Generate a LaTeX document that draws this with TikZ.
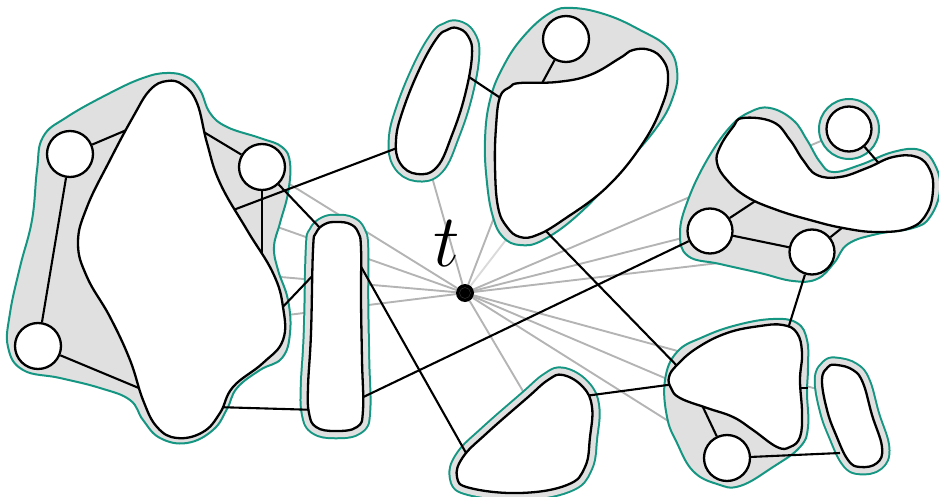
\documentclass[tikz,border=0pt]{standalone}

\definecolor{tealc}{RGB}{20,150,130}
\definecolor{hullgray}{RGB}{224,224,224}
\definecolor{raygray}{RGB}{180,180,180}
\definecolor{raylight}{RGB}{218,218,218}

\pgfdeclarelayer{rays}
\pgfdeclarelayer{hulls}
\pgfdeclarelayer{ties}
\pgfdeclarelayer{blobs}
\pgfsetlayers{rays,hulls,ties,blobs,main}

\tikzset{
  vert/.style={circle, draw, fill=white, line width=2.3pt, minimum size=46pt, inner sep=0pt},
  blob/.style={draw, fill=white, line width=2.3pt},
  hull/.style={draw=tealc, fill=hullgray, line width=2pt},
  band/.style={draw=tealc, line width=16.5pt, line join=round, postaction={draw=hullgray, line width=12.5pt}},
  tie/.style={line width=2.1pt},
  ray/.style={draw=raygray, line width=1.9pt},
}

% Các miền đơn
\newcommand\pillshape{plot[smooth cycle, tension=0.7] coordinates {(337,222) (350,224) (358,232) (361,248) (361,300) (362,360) (363,410) (357,427) (335,431) (316,427) (309,413) (308,387) (311,333) (313,250) (316,233) (325,224)}}
\newcommand\oblongshape{plot[smooth cycle, tension=0.7] coordinates {(457,28) (468,36) (472,55) (465,95) (452,135) (437,167) (417,174) (400,163) (396,140) (403,110) (420,68) (437,38) (447,30)}}
\newcommand\trishape{plot[smooth cycle, tension=0.7] coordinates {(563,375) (583,387) (592,407) (590,437) (585,467) (567,485) (520,493) (470,488) (457,477) (463,457) (487,433) (527,398) (548,380)}}
\newcommand\slimshape{plot[smooth cycle, tension=0.7] coordinates {(837,365) (853,370) (863,383) (872,415) (882,447) (877,463) (860,467) (848,460) (836,435) (827,410) (822,380) (828,367)}}

\begin{document}
\begin{tikzpicture}[x=1pt, y=-1pt]
    \useasboundingbox (0,0) rectangle (939,497);

    % Các đỉnh
    \node[circle, fill=black, minimum size=18pt, inner sep=0pt] (t) at (465,293) {};
    \draw[gray!45!black, line width=0.4pt] (t.center) circle[radius=5.5pt];
    \node[scale=3, font=\Huge] (tlabel) at (447,244) {$t$};

    \node[vert] (cTL) at (70,154) {};
    \node[vert] (cBL) at (38,346) {};
    \node[vert] (cLR) at (262,167) {};
    \node[vert] (cTop) at (566,39) {};
    \node[vert, minimum size=45pt] (cR1) at (710,231) {};
    \node[vert, minimum size=45pt] (cR2) at (812,252) {};
    \node[vert, minimum size=45pt] (cSm) at (849,129) {};
    \node[vert] (cBR) at (727,458) {};

    % Điểm neo trên các miền
    \coordinate (lbA) at (136,126);  \coordinate (lbB) at (146,391);
    \coordinate (lbC) at (202,131);  \coordinate (lbD) at (262,268);
    \coordinate (lbE) at (228,212);  \coordinate (lbF) at (278,312);
    \coordinate (lbG) at (215,407);  \coordinate (lbR) at (200,270);
    \coordinate (pA) at (322,230);   \coordinate (pB) at (318,270);
    \coordinate (pC) at (318,410);   \coordinate (pD) at (355,401);
    \coordinate (pE) at (355,256);
    \coordinate (obA) at (405,145);  \coordinate (obB) at (466,75);
    \coordinate (obR) at (422,142);
    \coordinate (tbA) at (505,101);  \coordinate (tbB) at (540,87);
    \coordinate (tbC) at (540,225);  \coordinate (tbR) at (510,176);
    \coordinate (tbL) at (539,197);
    \coordinate (rbA) at (757,200);  \coordinate (rbB) at (848,223);
    \coordinate (rbC) at (883,168);
    \coordinate (brA) at (683,372);  \coordinate (brB) at (675,384);
    \coordinate (brC) at (787,332);  \coordinate (brD) at (701,403);
    \coordinate (brE) at (795,388);  \coordinate (brX) at (808,388);
    \coordinate (brR) at (740,410);
    \coordinate (trA) at (585,396);  \coordinate (trB) at (470,460);
    \coordinate (trR) at (540,420);
    \coordinate (slA) at (840,453);  \coordinate (slR) at (850,398);

    % Các tia từ t
    \begin{pgfonlayer}{rays}
    \foreach \v in {cLR, cTL, lbR, cBL, obR, tbR, cR1, cR2, cSm, slR, brR, cBR, trR}
        \draw[ray] (t) -- (\v);
    \draw[ray, draw=raylight] (t) -- (tbL);
    \end{pgfonlayer}

    % Các cụm
    \begin{pgfonlayer}{hulls}
    \draw[hull] plot[smooth cycle, tension=0.7] coordinates {(167,73) (187,77) (200,90) (210,113) (227,127) (260,138) (282,147) (290,163) (288,193) (280,223) (274,247) (278,270) (288,300) (290,333) (282,358) (260,370) (237,388) (227,409) (213,430) (187,443) (160,438) (143,420) (130,400) (100,388) (60,378) (23,370) (8,347) (10,313) (20,267) (32,220) (37,170) (43,137) (67,117) (110,93) (143,78)};
    \draw[hull] plot[smooth cycle, tension=0.7] coordinates {(503,67) (523,37) (550,13) (573,8) (607,15) (640,30) (667,47) (677,70) (673,97) (657,127) (623,167) (580,213) (543,240) (520,245) (503,237) (493,217) (487,183) (485,140) (490,100)};
    \draw[hull] plot[smooth cycle, tension=0.7] coordinates {(770,108) (793,120) (807,140) (820,162) (833,172) (860,165) (893,152) (920,150) (935,165) (940,190) (930,217) (913,228) (877,234) (848,244) (834,263) (817,279) (793,281) (760,273) (720,264) (688,256) (680,233) (688,200) (707,160) (730,127) (750,112)};
    \draw[hull] (cSm.center) circle[radius=30pt];
    \draw[hull] plot[smooth cycle, tension=0.7] coordinates {(665,380) (677,352) (703,337) (737,325) (773,319) (797,323) (807,340) (808,367) (807,393) (808,427) (800,447) (773,467) (740,486) (717,484) (693,471) (677,443) (667,417)};
    \draw[band] \pillshape;
    \draw[band] \oblongshape;
    \draw[band] \trishape;
    \draw[band] \slimshape;
    \end{pgfonlayer}

    % Các cạnh
    \begin{pgfonlayer}{ties}
    \draw[tie] (cTL) -- (lbA);
    \draw[tie] (cTL) -- (cBL);
    \draw[tie] (cBL) -- (lbB);
    \draw[tie] (cLR) -- (lbC);
    \draw[tie] (cLR) -- (lbD);
    \draw[tie] (cLR) -- (pA);
    \draw[tie] (obA) -- (lbE);
    \draw[tie] (lbF) -- (pB);
    \draw[tie] (lbG) -- (pC);
    \draw[tie] (obB) -- (tbA);
    \draw[tie] (cTop) -- (tbB);
    \draw[tie] (tbC) -- (brA);
    \draw[tie] (cR1) -- (rbA);
    \draw[tie] (cR1) -- (cR2);
    \draw[tie] (cR2) -- (rbB);
    \draw[tie] (cSm) -- (rbC);
    \draw[tie] (cR1) -- (pD);
    \draw[tie] (cR2) -- (brC);
    \draw[tie] (pE) -- (trB);
    \draw[tie] (trA) -- (brB);
    \draw[tie] (cBR) -- (brD);
    \draw[tie] (cBR) -- (slA);
    \draw[tie] (brE) -- (brX);
    \end{pgfonlayer}

    % Các miền
    \begin{pgfonlayer}{blobs}
    \draw[blob] plot[smooth cycle, tension=0.7] coordinates {(167,81) (150,90) (133,117) (110,160) (87,207) (78,243) (87,277) (110,317) (130,360) (143,400) (157,427) (177,438) (203,432) (220,413) (233,387) (263,363) (283,340) (283,307) (273,273) (247,230) (220,183) (207,143) (197,103) (183,85)};
    \draw[blob] plot[smooth cycle, tension=0.7] coordinates {(500,97) (510,87) (520,83) (557,82) (590,75) (620,58) (633,50) (650,50) (663,60) (668,77) (663,103) (643,143) (607,187) (563,220) (537,235) (520,237) (507,227) (498,207) (495,167) (496,127)};
    \draw[blob] plot[smooth cycle, tension=0.7] coordinates {(743,118) (773,122) (790,140) (803,160) (817,175) (840,177) (867,168) (893,157) (917,157) (930,170) (933,190) (927,213) (910,228) (877,232) (843,228) (810,220) (777,210) (747,197) (727,180) (717,163) (720,147) (733,127)};
    \draw[blob] plot[smooth cycle, tension=0.7] coordinates {(669,377) (677,365) (697,348) (727,333) (760,326) (783,325) (797,333) (802,353) (800,380) (802,413) (800,437) (790,447) (777,447) (753,430) (733,417) (707,408) (680,398) (671,388)};
    \draw[blob] \pillshape;
    \draw[blob] \oblongshape;
    \draw[blob] \trishape;
    \draw[blob] \slimshape;
    \end{pgfonlayer}
\end{tikzpicture}
\end{document}
